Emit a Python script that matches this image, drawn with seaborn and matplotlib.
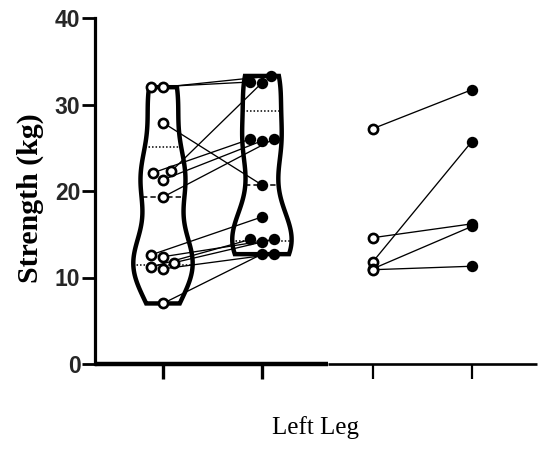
import numpy as np
import pandas as pd
import matplotlib
matplotlib.use("Agg")
import matplotlib.pyplot as plt
import seaborn as sns

# ---- data ----
pre_a = [32.0, 32.0, 27.9, 22.3, 22.1, 21.3, 19.3, 12.6, 12.4, 11.7, 11.2, 11.0, 7.0]
post_a = [33.3, 32.6, 20.7, 32.5, 26.0, 25.8, 26.0, 17.0, 14.4, 14.1, 14.4, 12.7, 12.7]
pre_b = [27.2, 14.6, 11.8, 11.0, 10.9]
post_b = [31.7, 16.2, 25.7, 15.9, 11.3]
y_ticks = [0, 10, 20, 30, 40]
y_label = "Strength (kg)"
x_label = "Left Leg"

# ---- layout ----
positions = [0.0, 1.0, 2.12, 3.12]
xlim = (-0.687, 3.78)
ylim = (0, 40)

sns.set_theme(style="white")
plt.rcParams["font.family"] = ["Liberation Sans", "DejaVu Sans"]

fig = plt.figure(figsize=(5.39, 4.55), dpi=100)
ax = fig.add_axes([95 / 539, 91 / 455, 442 / 539, 346 / 455])
ax.set_xlim(*xlim)
ax.set_ylim(*ylim)

# violins for the first pair
df_v = pd.DataFrame({
    "pos": np.repeat(positions[:2], [len(pre_a), len(post_a)]),
    "val": pre_a + post_a,
})
n0 = len(ax.collections)
sns.violinplot(data=df_v, x="pos", y="val", native_scale=True, orient="x",
               cut=0, inner=None, fill=False, color="black", linewidth=3.2,
               width=0.6, density_norm="width", bw_adjust=0.72, ax=ax)
violins = ax.collections[n0:]
for v in violins:
    v.set_zorder(2)
    v.set_joinstyle("miter")

# quartile lines (Prism style quartiles), spanning the violin width
def span_at(verts, yv):
    xs = []
    for (x0, y0), (x1, y1) in zip(verts[:-1], verts[1:]):
        if y0 != y1 and (y0 - yv) * (y1 - yv) <= 0:
            xs.append(x0 + (yv - y0) * (x1 - x0) / (y1 - y0))
    return min(xs), max(xs)

for coll, vals in zip(violins, [pre_a, post_a]):
    verts = coll.get_paths()[0].vertices
    qs = np.percentile(vals, [25, 50, 75], method="weibull")
    for q, ls in zip(qs, [(0, (1, 1.3)), (0, (3.5, 2)), (0, (1, 1.3))]):
        x0, x1 = span_at(verts, q)
        ax.plot([x0, x1], [q, q], color="black", lw=1.1, linestyle=ls, zorder=2)

# points
def add(fn, xs, ys, **kw):
    n = len(ax.collections)
    fn(x=xs, y=ys, native_scale=True, orient="x", ax=ax, **kw)
    return ax.collections[n:]

open_kw = dict(color="white", edgecolor="black", linewidth=1.9, size=6.6, zorder=5)
fill_kw = dict(color="black", edgecolor="black", linewidth=0, size=8.2, zorder=5)

c_pre_a = add(sns.swarmplot, np.repeat(positions[0], len(pre_a)), pre_a, **open_kw)
c_post_a = add(sns.swarmplot, np.repeat(positions[1], len(post_a)), post_a, **fill_kw)
c_pre_b = add(sns.stripplot, np.repeat(positions[2], len(pre_b)), pre_b, jitter=False, **open_kw)
c_post_b = add(sns.stripplot, np.repeat(positions[3], len(post_b)), post_b, jitter=False, **fill_kw)

ax.set_xlim(*xlim)
ax.set_ylim(*ylim)
fig.canvas.draw()

# connecting lines between paired points
for ca, cb in [(c_pre_a, c_post_a), (c_pre_b, c_post_b)]:
    pa = ca[0].get_offsets()
    pb = cb[0].get_offsets()
    for (xa, ya), (xb, yb) in zip(pa, pb):
        ax.plot([xa, xb], [ya, yb], color="black", lw=0.95, zorder=3)

# axes styling
ax.set_xlim(*xlim)
ax.set_ylim(*ylim)
ax.set_xlabel("")
ax.set_ylabel("")
for s in ["top", "right", "bottom"]:
    ax.spines[s].set_visible(False)
ax.spines["left"].set_color("black")
ax.spines["left"].set_linewidth(2.3)
split = (328 - 95) / 442
ax.axhline(0, xmin=0, xmax=split, color="black", lw=3.2, clip_on=False, zorder=6, solid_capstyle="butt")
ax.axhline(0, xmin=split, xmax=1, color="black", lw=1.9, clip_on=False, zorder=6, solid_capstyle="butt")

ax.set_yticks(y_ticks)
ax.set_yticklabels([str(t) for t in y_ticks], fontweight="bold", fontsize=16.5,
                   family="Liberation Sans")
ax.tick_params(axis="y", direction="out", length=9.5, width=2.0, color="black", pad=1, left=True)
ax.set_xticks(positions)
ax.set_xticklabels([])
ax.tick_params(axis="x", direction="out", length=10.5, width=1.6, color="black", bottom=True)
for t in ax.xaxis.get_major_ticks()[:2]:
    t.tick1line.set_markeredgewidth(2.4)
ax.grid(False)

fig.text(30 / 539, 1 - 198 / 455, y_label, rotation=90, ha="center", va="center",
         family="Liberation Serif", fontweight="bold", fontsize=21.5, color="black")
fig.text(316 / 539, 1 - 428 / 455, x_label, ha="center", va="center",
         family="Liberation Serif", fontsize=18, color="black")

fig.savefig("out.png", dpi=100, facecolor="white")
